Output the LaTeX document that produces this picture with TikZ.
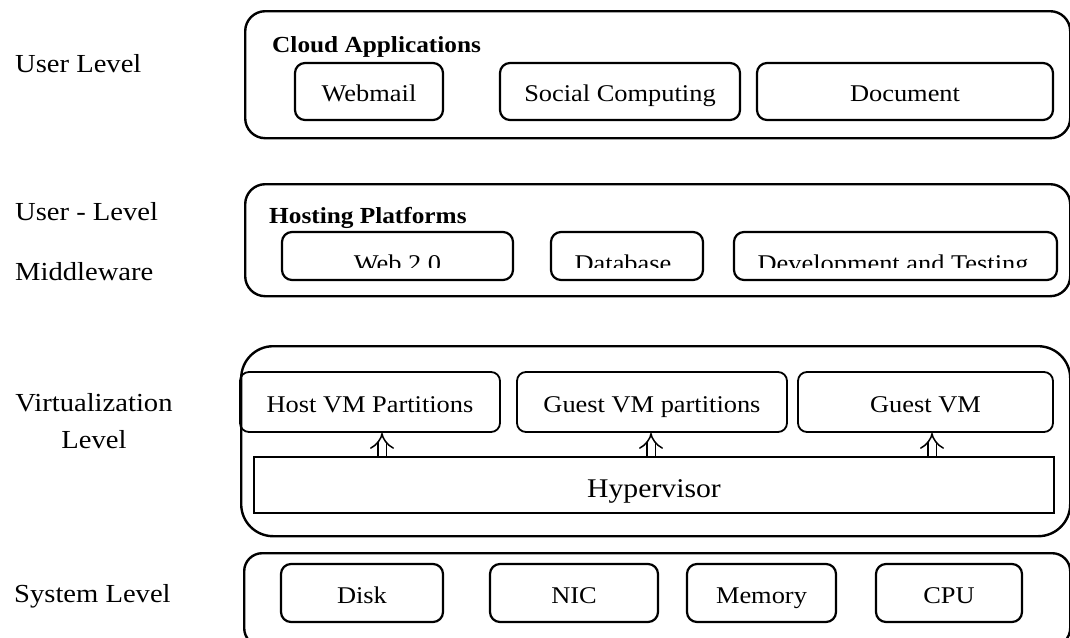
\documentclass[tikz,border=0pt]{standalone}
\usepackage{fontspec}
\setmainfont{Liberation Serif}[FakeStretch=1.1]
\usetikzlibrary{arrows.meta}

\tikzset{
  layer/.style={draw, line width=2.4pt, rounded corners=20pt, inner sep=0pt, anchor=north west},
  item/.style={draw, line width=2.2pt, rounded corners=10pt, inner sep=0pt,
    font=\fontsize{24}{28}\selectfont, text height=20pt, text depth=0pt},
  vmbox/.style={draw, line width=1.8pt, rounded corners=9pt, inner sep=0pt,
    font=\fontsize{24}{28}\selectfont, text height=20pt, text depth=0pt},
  title/.style={font=\bfseries\fontsize{23}{27}\selectfont, anchor=base west, inner sep=0pt},
  level/.style={font=\fontsize{26}{30}\selectfont, inner sep=0pt},
  cuttext/.style={font=\fontsize{24}{28}\selectfont, anchor=base, inner sep=0pt},
  lift/.style={double, double distance=7pt, line width=1.5pt, -{Implies[length=7pt, width=22pt]}}
}

\begin{document}
\begin{tikzpicture}[x=1pt, y=-1pt]
\useasboundingbox (0,0) rectangle (1070,637);

% level names on the left
\node[level, anchor=base west] (lvUser) at (15,72) {User Level};
\node[level, anchor=base west] (lvMid1) at (15,220) {User - Level};
\node[level, anchor=base west] (lvMid2) at (15,280) {Middleware};
\node[level, anchor=base] (lvVirt1) at (94,411) {Virtualization};
\node[level, anchor=base] (lvVirt2) at (94,448) {Level};
\node[level, anchor=base west] (lvSys) at (14,602) {System Level};

% user level: cloud applications
\node[layer, minimum width=825pt, minimum height=127pt] (apps) at (244,10) {};
\node[title] (appsTitle) at (272,52) {Cloud Applications};
\node[item, minimum width=148pt, minimum height=57pt] (webmail) at (369,91.5) {Webmail};
\node[item, minimum width=240pt, minimum height=57pt] (social) at (620,91.5) {Social Computing};
\node[item, minimum width=296pt, minimum height=57pt] (document) at (905,91.5) {Document};

% user-level middleware: hosting platforms
\node[layer, minimum width=825pt, minimum height=112pt] (hosting) at (244,183) {};
\node[title] (hostingTitle) at (269,223) {Hosting Platforms};
\node[item, minimum width=231pt, minimum height=48pt] (web2) at (397.5,256) {};
\node[item, minimum width=152pt, minimum height=48pt] (database) at (627,256) {};
\node[item, minimum width=323pt, minimum height=48pt] (devtest) at (895.5,256) {};
\begin{scope}
  \clip (244,232) rectangle (1069,267);
  \node[cuttext] (web2Text) at (397.5,271) {Web 2.0};
  \node[cuttext] (databaseText) at (623,271) {Database};
  \node[cuttext] (devtestText) at (893,271) {Development and Testing};
\end{scope}

% virtualization level
\node[layer, rounded corners=32pt, minimum width=829pt, minimum height=190pt] (virt) at (240,345) {};
\node[vmbox, minimum width=260pt, minimum height=60pt] (hostVM) at (370,402) {Host VM Partitions};
\node[vmbox, minimum width=270pt, minimum height=60pt] (guestPart) at (652,402) {Guest VM partitions};
\node[vmbox, minimum width=255pt, minimum height=60pt] (guestVM) at (925.5,402) {Guest VM};
\node[draw, line width=2pt, inner sep=0pt, minimum width=800pt, minimum height=56pt,
  font=\fontsize{27}{31}\selectfont, text height=24pt, text depth=0pt] (hyper) at (654,485) {Hypervisor};

\draw[lift] ([xshift=12pt]hostVM.south |- hyper.north) -- ([xshift=12pt]hostVM.south);
\draw[lift] ([xshift=-1pt]guestPart.south |- hyper.north) -- ([xshift=-1pt]guestPart.south);
\draw[lift] ([xshift=6.5pt]guestVM.south |- hyper.north) -- ([xshift=6.5pt]guestVM.south);

% system level
\node[layer, rounded corners=18pt, minimum width=826pt, minimum height=93pt] (system) at (243,552) {};
\node[item, minimum width=162pt, minimum height=58pt] (disk) at (362,593) {Disk};
\node[item, minimum width=168pt, minimum height=58pt] (nic) at (574,593) {NIC};
\node[item, minimum width=149pt, minimum height=58pt] (memory) at (761.5,593) {Memory};
\node[item, minimum width=146pt, minimum height=58pt] (cpu) at (949,593) {CPU};
\end{tikzpicture}
\end{document}
